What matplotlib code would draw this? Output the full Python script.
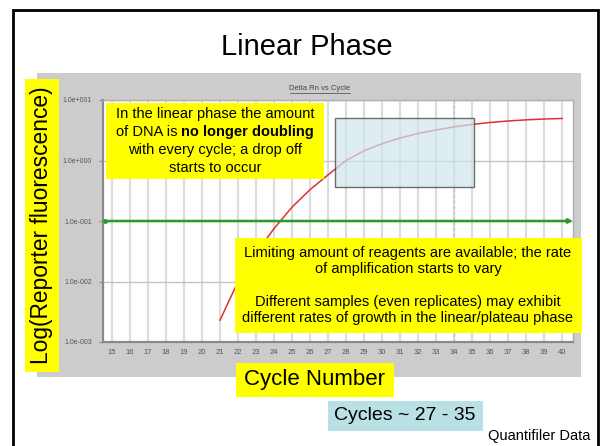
import matplotlib
matplotlib.use("Agg")
import matplotlib.pyplot as plt
from matplotlib.patches import Rectangle

plt.rcParams['font.family'] = ['Liberation Sans', 'DejaVu Sans']

# amplification curve (Delta Rn per cycle)
cycles = [21, 22, 23, 24, 25, 26, 27, 28, 29, 30,
          31, 32, 33, 34, 35, 36, 37, 38, 39, 40]
delta_rn = [0.0023, 0.010, 0.030, 0.075, 0.17, 0.33, 0.58, 1.0, 1.45, 1.9,
            2.35, 2.8, 3.2, 3.6, 3.95, 4.25, 4.5, 4.7, 4.85, 4.95]

threshold = 0.1
x_ticks = list(range(15, 41))
y_ticks = [1e-3, 1e-2, 1e-1, 1e0, 1e1]
y_tick_labels = ["1.0e-003", "1.0e-002", "1.0e-001", "1.0e+000", "1.0e+001"]
linear_start, linear_end = 27.4, 35.1
linear_low, linear_high = 0.36, 5.0

W, H = 602, 446


def fx(px):
    return px / W


def fy(py):
    return 1 - py / H


def fig_box(fig, x0, y0, x1, y1, color, zorder=1, **kw):
    r = Rectangle((fx(x0), fy(y1)), fx(x1) - fx(x0), fy(y0) - fy(y1),
                  transform=fig.transFigure, facecolor=color, edgecolor='none',
                  zorder=zorder, **kw)
    fig.patches.append(r)


fig = plt.figure(figsize=(W / 100, H / 100), dpi=100)
renderer = fig.canvas.get_renderer()

# slide frame (bottom edge runs off the page)
fig.patches.append(Rectangle((fx(13), fy(460)), fx(598) - fx(13), fy(10) - fy(460),
                             transform=fig.transFigure, facecolor='white',
                             edgecolor='black', linewidth=2, zorder=0))
# gray chart panel
fig_box(fig, 37, 73, 581, 377, '#cccccc', zorder=0.5)

fig.text(fx(307), fy(47), "Linear Phase", fontsize=21, ha='center', va='center')

ax = fig.add_axes([fx(103), fy(342), fx(573) - fx(103), fy(100) - fy(342)])
ax.set_zorder(2)
ax.set_facecolor('white')
ax.set_yscale('log')
ax.set_xlim(14.5, 40.6)
ax.set_ylim(1e-3, 1e1)

for c in x_ticks:
    ax.axvline(c, color='#dcdcdc', linewidth=1.6, zorder=1)
ax.axvline(34, color='#bbbbbb', linewidth=0.8, linestyle=(0, (3, 2)), zorder=1)
for v in y_ticks:
    ax.axhline(v, color='#c4c4c4', linewidth=1.0, zorder=1)

ax.plot(cycles, delta_rn, color='#e03030', linewidth=1.1, zorder=3)

ax.annotate('', xy=(40.6, threshold), xytext=(14.6, threshold),
            arrowprops=dict(arrowstyle='-|>', color='#2a9a2a', lw=1.8,
                            mutation_scale=6, shrinkA=0, shrinkB=0), zorder=4)
ax.plot([14.6], [threshold], marker='o', markersize=2.5, color='#2a9a2a', zorder=4)

ax.add_patch(Rectangle((linear_start, linear_low), linear_end - linear_start,
                       linear_high - linear_low, facecolor='#cfe6ec', alpha=0.7,
                       edgecolor='#333333', linewidth=1.0, zorder=5))

ax.set_xticks(x_ticks)
ax.set_xticklabels([str(c) for c in x_ticks], fontsize=5.5, color='#555555')
ax.set_yticks(y_ticks)
ax.set_yticklabels(y_tick_labels, fontsize=5, color='#555555')
ax.minorticks_off()
ax.tick_params(axis='both', length=3, color='#888888', pad=5)
ax.tick_params(axis='x', length=0, pad=5)
for side in ['left', 'bottom']:
    ax.spines[side].set_color('#8a8a8a')
    ax.spines[side].set_linewidth(1.6)
for side in ['top', 'right']:
    ax.spines[side].set_color('#b0b0b0')
    ax.spines[side].set_linewidth(1.0)

# small chart title with underline
fig.text(fx(320), fy(89), "Delta Rn vs Cycle", fontsize=5.5, color='#444444',
         ha='center', va='center', zorder=3)
fig.lines.append(plt.Line2D([fx(290), fx(350)], [fy(93), fy(93)],
                            transform=fig.transFigure, color='#444444', lw=0.5))

# yellow annotation boxes
fig_box(fig, 106, 103, 324, 179, '#ffff00', zorder=6)
box_fs = 10.5
line_h = 17.7
top_lines = ["In the linear phase the amount", None,
             "with every cycle; a drop off", "starts to occur"]
for i, line in enumerate(top_lines):
    yy = fy(141 + (i - 1.5) * line_h)
    if line is not None:
        fig.text(fx(215), yy, line, fontsize=box_fs, ha='center', va='center', zorder=7)
        continue
    t1 = fig.text(0, yy, "of DNA is ", fontsize=box_fs, ha='left', va='center', zorder=7)
    t2 = fig.text(0, yy, "no longer doubling", fontsize=box_fs, fontweight='bold',
                  ha='left', va='center', zorder=7)
    w1 = t1.get_window_extent(renderer).width
    w2 = t2.get_window_extent(renderer).width
    start = 215 - (w1 + w2) / 2
    t1.set_x(fx(start))
    t2.set_x(fx(start + w1))

fig_box(fig, 235, 238, 582, 333, '#ffff00', zorder=6)
fig.text(fx(408), fy(285.5),
         "Limiting amount of reagents are available; the rate\n"
         "of amplification starts to vary\n\n"
         "Different samples (even replicates) may exhibit\n"
         "different rates of growth in the linear/plateau phase",
         fontsize=box_fs, ha='center', va='center', linespacing=1.2, zorder=7)

fig_box(fig, 25, 79, 59, 372, '#ffff00', zorder=6)
fig.text(fx(42), fy(225), "Log(Reporter fluorescence)", fontsize=16.4,
         rotation=90, ha='center', va='center', zorder=7)

fig_box(fig, 236, 363, 394, 397, '#ffff00', zorder=6)
fig.text(fx(315), fy(380), "Cycle Number", fontsize=16,
         ha='center', va='center', zorder=7)

fig_box(fig, 328, 401, 483, 431, '#b9e0e5', zorder=6)
fig.text(fx(405), fy(416), "Cycles ~ 27 - 35", fontsize=14,
         ha='center', va='center', zorder=7)

fig.text(fx(590), fy(436), "Quantifiler Data", fontsize=10.5,
         ha='right', va='center', zorder=7)

fig.savefig("out.png", dpi=100)
